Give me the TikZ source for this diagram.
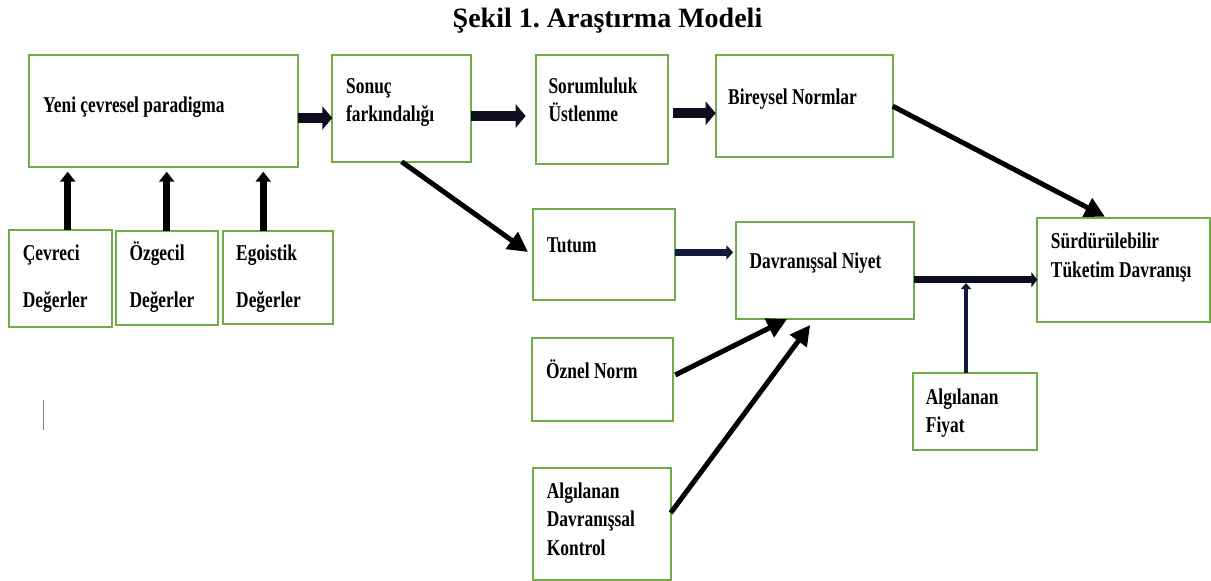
\documentclass[tikz,border=0pt]{standalone}
\usepackage{fontspec}
\setmainfont{Liberation Serif}
\newfontfamily\bxfont[FakeStretch=0.77]{Liberation Serif}
\usetikzlibrary{arrows.meta}
\frenchspacing
\definecolor{boxgreen}{RGB}{112,173,71}
\definecolor{navyblk}{RGB}{12,14,32}
\definecolor{navyln}{RGB}{18,26,60}
\definecolor{cursorgray}{RGB}{130,130,130}
\tikzset{
  box/.style={draw=boxgreen, line width=2pt, rectangle, inner sep=0pt, outer sep=0pt},
  txt/.style={anchor=base west, inner sep=0pt, font=\bxfont\bfseries\fontsize{22.6}{28}\selectfont},
  titletxt/.style={anchor=base, inner sep=0pt, font=\bfseries\fontsize{28}{32}\selectfont},
  fatarrow/.style={navyblk, line width=10pt, line cap=butt, -{Triangle[length=10pt,width=23pt]}},
  uparrow/.style={black, line width=7pt, line cap=butt, -{Triangle[length=10pt,width=15pt]}},
  diagarrow/.style={black, line width=5pt, line cap=butt, -{Triangle[length=20pt,width=20pt]}},
  midarrow/.style={navyln, line width=7.5pt, line cap=butt, -{Triangle[length=7pt,width=14pt]}},
  outarrow/.style={navyblk, line width=7pt, line cap=butt, -{Triangle[length=6pt,width=15pt]}},
  thinarrow/.style={navyln, line width=3.5pt, line cap=butt, -{Triangle[length=6pt,width=10pt]}},
}
\newcommand\mybox[5]{\node[box, minimum width={#4-#2}, minimum height={#5-#3}] (#1) at ({(#2+#4)/2},{(#3+#5)/2}) {};}
\begin{document}
\begin{tikzpicture}[x=1pt,y=-1pt]
\useasboundingbox (0,0) rectangle (1211,581);

\node[titletxt] (title) at (607.5,27.3) {Şekil 1. Araştırma Modeli};

% boxes
\mybox{yeni}{29.3}{55}{297.7}{167.3}
\mybox{sonuc}{332.3}{55}{471}{161.7}
\mybox{sorum}{535.7}{55}{668.3}{164.3}
\mybox{birey}{715.7}{55}{892.7}{157.3}
\mybox{cevre}{9.3}{230}{111.7}{326.7}
\mybox{ozgec}{116}{231}{218.3}{325}
\mybox{egois}{222.7}{231}{332.7}{324}
\mybox{tutum}{533.3}{209}{675}{300}
\mybox{niyet}{736}{221.7}{914.3}{319}
\mybox{surd}{1037.3}{218.3}{1210}{321.7}
\mybox{fiyat}{912.7}{373.3}{1037.3}{450}
\mybox{oznel}{531.7}{338.3}{673.3}{421}
\mybox{kontrol}{533.3}{468.3}{670.7}{579.5}

% texts
\node[txt] (t-yeni) at (43,112) {Yeni çevresel paradigma};
\node[txt] (t-sonuc1) at (346,93) {Sonuç};
\node[txt] (t-sonuc2) at (346,121) {farkındalığı};
\node[txt] (t-sorum1) at (548.3,93.3) {Sorumluluk};
\node[txt] (t-sorum2) at (548.3,121.7) {Üstlenme};
\node[txt] (t-birey) at (728,104) {Bireysel Normlar};
\node[txt] (t-cevre1) at (22.7,260) {Çevreci};
\node[txt] (t-cevre2) at (22.7,307) {Değerler};
\node[txt] (t-ozgec1) at (129.3,260) {Özgecil};
\node[txt] (t-ozgec2) at (129.3,307) {Değerler};
\node[txt] (t-egois1) at (236,260) {Egoistik};
\node[txt] (t-egois2) at (236,307) {Değerler};
\node[txt] (t-tutum) at (546.7,252.7) {Tutum};
\node[txt] (t-niyet) at (749.3,268.3) {Davranışsal Niyet};
\node[txt] (t-surd1) at (1050.7,248.3) {Sürdürülebilir};
\node[txt] (t-surd2) at (1050.7,277.3) {Tüketim Davranışı};
\node[txt] (t-fiyat1) at (925.7,404) {Algılanan};
\node[txt] (t-fiyat2) at (925.7,432) {Fiyat};
\node[txt] (t-oznel) at (546,378.3) {Öznel Norm};
\node[txt] (t-kontrol1) at (546.7,498) {Algılanan};
\node[txt] (t-kontrol2) at (546.7,526.7) {Davranışsal};
\node[txt] (t-kontrol3) at (546.7,555) {Kontrol};

% guide coordinates
\coordinate (r1) at (0,118);
\coordinate (r2) at (0,116);
\coordinate (r3) at (0,113.2);
\coordinate (u1) at (67.7,0);
\coordinate (u2) at (166.7,0);
\coordinate (u3) at (263.3,0);
\coordinate (tn) at (0,252.4);
\coordinate (ns) at (0,279.7);
\coordinate (fj) at (966,283);

% top chain
\draw[fatarrow] (yeni.east |- r1) -- (sonuc.west |- r1);
\draw[fatarrow] (sonuc.east |- r2) -- ([xshift=-10pt]sorum.west |- r2);
\draw[fatarrow] ([xshift=5pt]sorum.east |- r3) -- (birey.west |- r3);

% value arrows
\draw[uparrow, shorten >=4.4pt] (cevre.north -| u1) -- (yeni.south -| u1);
\draw[uparrow, shorten >=4.4pt] (ozgec.north -| u2) -- (yeni.south -| u2);
\draw[uparrow, shorten >=4.4pt] (egois.north -| u3) -- (yeni.south -| u3);

% diagonal arrows
\draw[diagarrow] (sonuc.south) -- ([xshift=-5.3pt,yshift=2.5pt]tutum.west);
\draw[diagarrow] (birey.east) -- ([xshift=-18.7pt,yshift=1.6pt]surd.north);
\draw[diagarrow] ([xshift=2pt,yshift=4.7pt]oznel.east) -- ([xshift=-38pt]niyet.south);
\draw[diagarrow] ([yshift=11pt]kontrol.east) -- ([xshift=-15pt,yshift=-6pt]niyet.south);

% lower chain
\draw[midarrow, shorten >=2.7pt] (tutum.east |- tn) -- (niyet.west |- tn);
\draw[outarrow] (niyet.east |- ns) -- (surd.west |- ns);
\draw[thinarrow] (fj |- fiyat.north) -- (fj);

% cursor mark
\coordinate (c1) at (43.3,400);
\coordinate (c2) at (43.3,430);
\draw[cursorgray, line width=1.5pt] (c1) -- (c2);
\end{tikzpicture}
\end{document}
